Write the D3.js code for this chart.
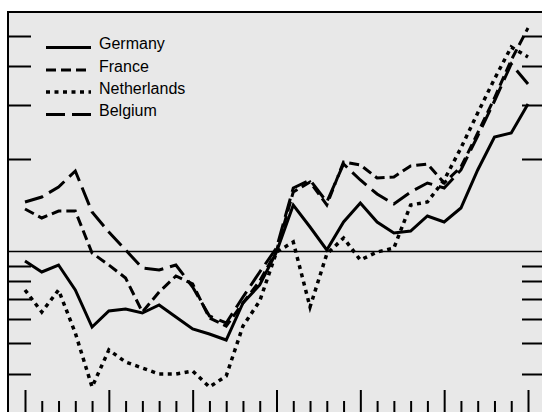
<!DOCTYPE html>
<html>
<head>
<meta charset="utf-8">
<script src="https://cdn.jsdelivr.net/npm/d3@7"></script>
<style>
body { margin: 0; background: #fff; }
</style>
</head>
<body>
<script>
// period index along the x axis (31 periods, long tick every 5)
var periods = d3.range(0, 31);

// series values (unlabelled index, 0 = reference line)
var germany = [-1.0, -2.1, -1.4, -3.9, -7.6, -6.0, -5.8, -6.2, -5.4, -6.6,
               -7.8, -8.3, -8.9, -5.2, -3.4, -0.1, 4.6, 2.4, 0.1, 2.9,
               4.8, 2.9, 1.8, 2.0, 3.5, 2.9, 4.3, 8.1, 11.4, 11.8, 14.7];
var france = [4.2, 3.3, 4.0, 4.0, -0.2, -1.4, -2.7, -6.1, -4.1, -2.5,
              -3.3, -6.7, -7.5, -5.2, -3.0, 0.0, 5.9, 6.9, 4.6, 8.9,
              8.6, 7.3, 7.4, 8.5, 8.7, 6.8, 8.4, 11.8, 15.3, 19.1, 22.3];
var netherlands = [-3.9, -6.1, -3.9, -8.2, -13.6, -9.9, -11.1, -11.7, -12.3, -12.3,
                   -12.0, -13.6, -12.5, -7.5, -5.0, -0.1, 0.9, -5.6, -0.3, 1.3,
                   -0.9, -0.1, 0.3, 4.6, 4.9, 7.1, 10.3, 13.8, 17.2, 20.4, 19.4];
var belgium = [4.9, 5.4, 6.4, 8.0, 3.9, 1.9, 0.1, -1.7, -1.9, -1.4,
               -3.6, -6.5, -7.2, -4.6, -2.1, 0.3, 6.3, 7.1, 4.9, 8.7,
               7.1, 5.7, 4.7, 5.9, 6.8, 6.3, 8.1, 11.5, 15.0, 18.7, 16.7];

var seriesNames = ['Germany', 'France', 'Netherlands', 'Belgium'];
var yTicks = [21.5, 18.5, 14.6, 9.2, -1.5, -3.0, -4.8, -6.8, -9.2, -12.3];

var svgWidth = 542, svgHeight = 412;
var plot = { left: 8, top: 12, right: 545, bottom: 413 };

var styles = {
    'Germany':     { dash: null,    width: 3 },
    'France':      { dash: '10,5',  width: 3 },
    'Netherlands': { dash: '4,4.5', width: 3.5 },
    'Belgium':     { dash: '19,7',  width: 3 }
};

var dataset = [
    { name: 'Germany', values: germany },
    { name: 'France', values: france },
    { name: 'Netherlands', values: netherlands },
    { name: 'Belgium', values: belgium }
];

var xScale = d3.scaleLinear().domain([0, 30]).range([25, 528]);
var yScale = d3.scaleLinear().domain([-16.2, 23.9]).range([plot.bottom, plot.top]);

var svg = d3.select('body')
    .append('svg')
    .attr('width', svgWidth)
    .attr('height', svgHeight);

svg.append('rect')
    .attr('x', plot.left)
    .attr('y', plot.top)
    .attr('width', plot.right - plot.left)
    .attr('height', plot.bottom - plot.top)
    .attr('fill', '#e8e8e8')
    .attr('stroke', '#000')
    .attr('stroke-width', 2);

// reference line (snapped to the pixel grid so it stays crisp)
var zeroY = Math.round(yScale(0)) + 0.5;
svg.append('line')
    .attr('x1', plot.left).attr('x2', plot.right)
    .attr('y1', zeroY).attr('y2', zeroY)
    .attr('stroke', '#000')
    .attr('stroke-width', 1.3);

// axes, ticks pointing inward
var xAxis = svg.append('g')
    .attr('transform', 'translate(0,' + plot.bottom + ')')
    .call(d3.axisTop(xScale).tickValues(periods).tickSize(23).tickFormat(''));
xAxis.selectAll('.tick line')
    .attr('y2', function(d) { return d % 5 === 0 ? -23 : -12; });

var yLeft = svg.append('g')
    .attr('transform', 'translate(' + plot.left + ',0)')
    .call(d3.axisRight(yScale).tickValues(yTicks).tickSize(23).tickFormat(''));

var yRight = svg.append('g')
    .attr('transform', 'translate(' + plot.right + ',0)')
    .call(d3.axisLeft(yScale).tickValues(yTicks).tickSize(23).tickFormat(''));

svg.selectAll('.domain').remove();
svg.selectAll('.tick line').attr('stroke', '#000').attr('stroke-width', 2);

var line = d3.line()
    .x(function(d, i) { return xScale(periods[i]); })
    .y(function(d) { return yScale(d); });

svg.selectAll('path.series')
    .data(dataset)
    .enter()
    .append('path')
    .attr('class', 'series')
    .attr('d', function(d) { return line(d.values); })
    .attr('fill', 'none')
    .attr('stroke', '#000')
    .attr('stroke-width', function(d) { return styles[d.name].width; })
    .attr('stroke-dasharray', function(d) { return styles[d.name].dash; });

// legend
var legend = svg.append('g');
var legendY = [47.5, 70, 92, 114.5];

seriesNames.forEach(function(name, i) {
    legend.append('line')
        .attr('x1', 46).attr('x2', 91)
        .attr('y1', legendY[i]).attr('y2', legendY[i])
        .attr('stroke', '#000')
        .attr('stroke-width', styles[name].width)
        .attr('stroke-dasharray', styles[name].dash);
    legend.append('text')
        .attr('x', 99)
        .attr('y', legendY[i] + 1.5)
        .attr('font-family', 'Liberation Sans, Arial, sans-serif')
        .attr('font-size', 16)
        .text(name);
});
</script>
</body>
</html>
